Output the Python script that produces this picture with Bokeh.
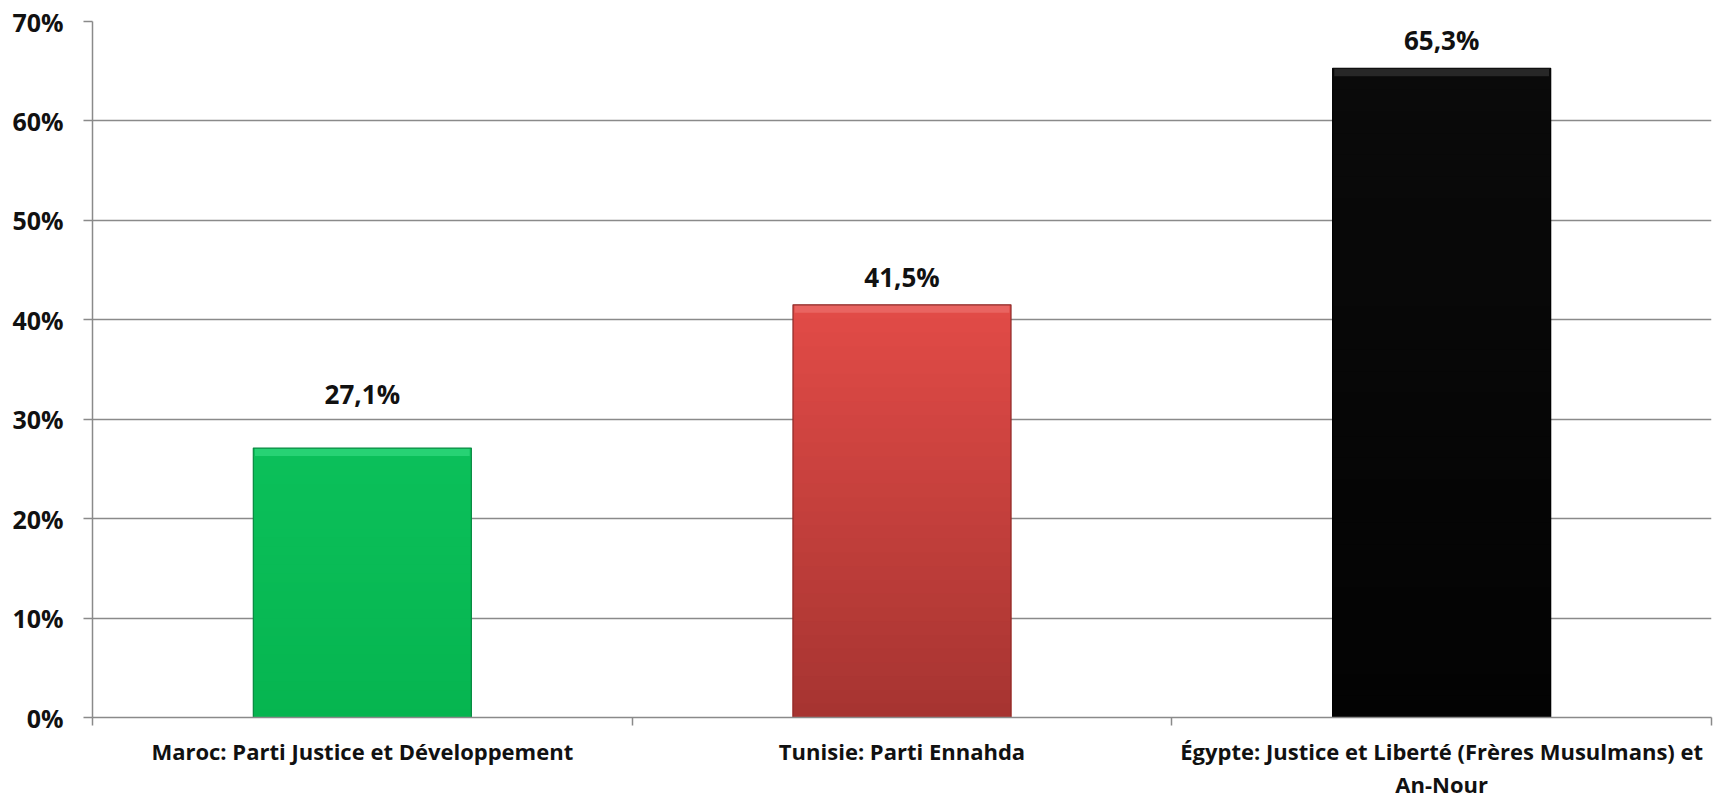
from bokeh.plotting import figure
from bokeh.models import Range1d, FixedTicker, ColumnDataSource
from bokeh.core.properties import value
from bokeh.embed import file_html
from bokeh.resources import INLINE
import numpy as np

# ---- data ----
categories = [
    "Maroc: Parti Justice et Développement",
    "Tunisie: Parti Ennahda",
    "Égypte: Justice et Liberté (Frères Musulmans) et An-Nour",
]
axis_labels = [
    "Maroc: Parti Justice et Développement",
    "Tunisie: Parti Ennahda",
    "Égypte: Justice et Liberté (Frères Musulmans) et\nAn-Nour",
]
values = [27.1, 41.5, 65.3]
value_labels = ["27,1%", "41,5%", "65,3%"]
y_ticks = [0, 10, 20, 30, 40, 50, 60, 70]
y_tick_labels = ["0%", "10%", "20%", "30%", "40%", "50%", "60%", "70%"]

# ---- style ----
top_colors = ["#0BC05A", "#E24B47", "#0A0A0A"]
bottom_colors = ["#06B550", "#A63431", "#030303"]
edge_colors = ["#0A8A42", "#8E2B29", "#000000"]
bevel_colors = ["#3FE08A", "#F07A76", "#444444"]
bevel_alpha = [0.55, 0.55, 0.5]
label_dy = [-54, -28, -28]
GRAY = "#8A8A8A"
FONT = "Open Sans"

n = len(categories)
centers = np.arange(n) + 0.5
bar_w = 0.404

p = figure(frame_width=1619, frame_height=696, output_backend="svg",
           toolbar_location=None,
           x_range=Range1d(0, n), y_range=Range1d(0, 70),
           min_border_left=92, min_border_right=2, min_border_top=21,
           min_border_bottom=60, outline_line_color=None,
           background_fill_color="white", border_fill_color="white")


def hex2rgb(h):
    h = h.lstrip("#")
    return np.array([int(h[i:i + 2], 16) for i in (0, 2, 4)], dtype=float)


def rgb2hex(c):
    return "#%02x%02x%02x" % tuple(int(round(v)) for v in c)


# gradient bars: overlapping slices drawn from tallest to shortest
vals = np.array(values)
nslices = 30
for k in range(nslices - 1, -1, -1):
    f1 = (k + 1) / nslices
    cols = [rgb2hex(hex2rgb(b) + (hex2rgb(t) - hex2rgb(b)) * (k + 0.5) / nslices)
            for b, t in zip(bottom_colors, top_colors)]
    p.vbar(x=centers, width=bar_w, bottom=0, top=vals * f1,
           fill_color=cols, line_color=None)

# bevel highlight at top
p.vbar(x=centers, width=bar_w * 0.985, top=vals, bottom=vals - 0.8,
       fill_color=bevel_colors, fill_alpha=bevel_alpha, line_color=None)
# bar edges
p.vbar(x=centers, width=bar_w, top=vals, bottom=0, fill_color=None,
       line_color=edge_colors, line_width=1.2)

# value labels
src = ColumnDataSource(dict(x=centers, y=vals, t=value_labels, dy=label_dy))
p.text(x="x", y="y", text="t", y_offset="dy", source=src,
       text_align="center", text_baseline="alphabetic",
       text_font=value(FONT), text_font_style="bold",
       text_font_size="26px", text_color="#111111")

# axes
xa = p.xaxis[0]
xa.ticker = FixedTicker(ticks=list(centers), minor_ticks=list(np.arange(n + 1)))
xa.major_label_overrides = {float(c): lab for c, lab in zip(centers, axis_labels)}
xa.major_tick_out = 0
xa.major_tick_in = 0
xa.minor_tick_out = 8
xa.minor_tick_in = 0
xa.minor_tick_line_color = GRAY
xa.minor_tick_line_width = 1.5
xa.axis_line_color = GRAY
xa.axis_line_width = 1.5
xa.major_label_standoff = 10
xa.major_label_text_font = FONT
xa.major_label_text_font_style = "bold"
xa.major_label_text_font_size = "22px"
xa.major_label_text_line_height = 1.1
xa.major_label_text_color = "#111111"

ya = p.yaxis[0]
ya.ticker = FixedTicker(ticks=y_ticks, minor_ticks=[])
ya.major_label_overrides = {t: lab for t, lab in zip(y_ticks, y_tick_labels)}
ya.major_tick_out = 9
ya.major_tick_in = 0
ya.major_tick_line_color = GRAY
ya.major_tick_line_width = 1.5
ya.minor_tick_out = 0
ya.minor_tick_in = 0
ya.axis_line_color = GRAY
ya.axis_line_width = 1.5
ya.major_label_standoff = 20
ya.major_label_text_font = FONT
ya.major_label_text_font_style = "bold"
ya.major_label_text_font_size = "25px"
ya.major_label_text_color = "#111111"

p.xgrid.grid_line_color = None
p.ygrid.ticker = FixedTicker(ticks=y_ticks)
p.ygrid.grid_line_color = GRAY
p.ygrid.grid_line_width = 1.5

open("out.html", "w").write(file_html(p, INLINE))
